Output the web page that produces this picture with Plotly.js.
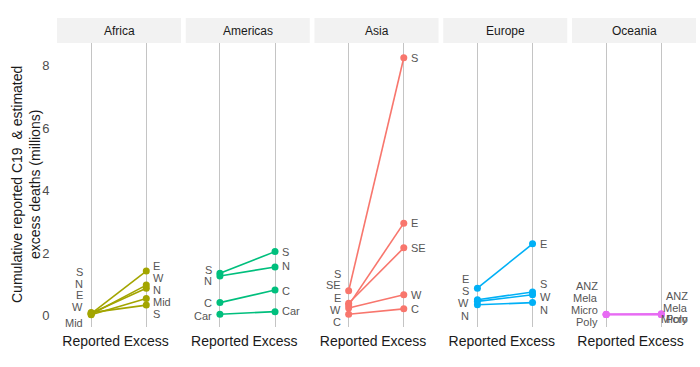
<!DOCTYPE html>
<html>
<head>
<meta charset="utf-8">
<script src="https://cdn.plot.ly/plotly-3.0.1.min.js"></script>
<style>html,body{margin:0;padding:0;background:#fff}#chart{width:700px;height:367px}</style>
</head>
<body>
<div id="chart"></div>
<script>
// ---- data (millions of deaths) ----
const regions = ["Africa", "Americas", "Asia", "Europe", "Oceania"];
const colors = ["#A3A500", "#00BF7D", "#F8766D", "#00B0F6", "#E76BF3"];
const measures = ["Reported", "Excess"];

const africaSubs = ["S", "N", "E", "W", "Mid"];
const africaReported = [0.10, 0.08, 0.07, 0.05, 0.03];
const africaExcess = [0.34, 0.88, 1.43, 0.98, 0.55];

const americasSubs = ["S", "N", "C", "Car"];
const americasReported = [1.36, 1.27, 0.42, 0.05];
const americasExcess = [2.05, 1.56, 0.82, 0.13];

const asiaSubs = ["S", "SE", "E", "W", "C"];
const asiaReported = [0.80, 0.40, 0.34, 0.25, 0.05];
const asiaExcess = [8.25, 2.17, 2.96, 0.67, 0.22];

const europeSubs = ["E", "S", "W", "N"];
const europeReported = [0.88, 0.51, 0.46, 0.35];
const europeExcess = [2.30, 0.76, 0.67, 0.42];

const oceaniaSubs = ["ANZ", "Mela", "Micro", "Poly"];
const oceaniaReported = [0.05, 0.04, 0.04, 0.04];
const oceaniaExcess = [0.06, 0.04, 0.04, 0.04];

// repelled label positions (y, in data units) for left and right label columns
const africaLeftLabelY = [1.40, 1.02, 0.67, 0.29, -0.22];
const africaRightLabelY = [0.06, 0.83, 1.59, 1.21, 0.45];
const americasLeftLabelY = [1.45, 1.12, 0.42, -0.02];
const americasRightLabelY = [2.05, 1.59, 0.80, 0.14];
const asiaLeftLabelY = [1.35, 0.98, 0.58, 0.18, -0.21];
const asiaRightLabelY = [8.25, 2.17, 2.96, 0.67, 0.22];
const europeLeftLabelY = [1.17, 0.80, 0.42, 0.00];
const europeRightLabelY = [2.30, 1.01, 0.61, 0.19];
const oceaniaLeftLabelY = [0.96, 0.58, 0.18, -0.21];
const oceaniaRightLabelY = [0.64, 0.26, -0.11, -0.11];

const panels = [
  {subs: africaSubs, rep: africaReported, exc: africaExcess, ly: africaLeftLabelY, ry: africaRightLabelY},
  {subs: americasSubs, rep: americasReported, exc: americasExcess, ly: americasLeftLabelY, ry: americasRightLabelY},
  {subs: asiaSubs, rep: asiaReported, exc: asiaExcess, ly: asiaLeftLabelY, ry: asiaRightLabelY},
  {subs: europeSubs, rep: europeReported, exc: europeExcess, ly: europeLeftLabelY, ry: europeRightLabelY},
  {subs: oceaniaSubs, rep: oceaniaReported, exc: oceaniaExcess, ly: oceaniaLeftLabelY, ry: oceaniaRightLabelY}
];

// ---- layout geometry ----
const L = 57, R = 4, T = 43, B = 40, W = 700, H = 367;
const plotW = W - L - R, plotH = H - T - B;
const panelW = 124, gapW = (plotW - 5 * panelW) / 4;

const traces = [];
const annotations = [];
const shapes = [];
const layout = {
  width: W, height: H,
  margin: {l: L, r: R, t: T, b: B, pad: 0},
  paper_bgcolor: "#fff", plot_bgcolor: "rgba(0,0,0,0)",
  showlegend: false,
  font: {family: "Liberation Sans, Arial, sans-serif", color: "#4D4D4D"},
  yaxis: {
    domain: [0, 1], anchor: "x", range: [-0.36, 8.72],
    tickvals: [0, 2, 4, 6, 8], ticktext: ["0", "2", "4", "6", "8"],
    showgrid: false, zeroline: false, showline: false,
    ticks: "outside", ticklen: 4, tickcolor: "rgba(0,0,0,0)",
    tickfont: {size: 13, color: "#4D4D4D"}
  }
};

panels.forEach((p, i) => {
  const ax = i === 0 ? "x" : "x" + (i + 1);
  const axKey = i === 0 ? "xaxis" : "xaxis" + (i + 1);
  const x0 = (i * (panelW + gapW)) / plotW;
  const x1 = (i * (panelW + gapW) + panelW) / plotW;
  layout[axKey] = {
    domain: [x0, x1], anchor: "y", type: "category",
    categoryorder: "array", categoryarray: measures,
    range: [-0.62, 1.63],
    showgrid: true, gridcolor: "#C4C4C4", gridwidth: 1,
    zeroline: false, showline: false,
    ticks: "outside", ticklen: 1, tickcolor: "rgba(0,0,0,0)",
    tickfont: {size: 14, color: "#1A1A1A"}
  };
  p.subs.forEach((s, j) => {
    traces.push({
      type: "scatter", mode: "lines+markers",
      x: measures, y: [p.rep[j], p.exc[j]],
      xaxis: ax, yaxis: "y",
      line: {color: colors[i], width: 1.6},
      marker: {color: colors[i], size: 7},
      hoverinfo: "skip"
    });
    annotations.push({
      xref: ax, yref: "y", x: measures[0], y: p.ly[j],
      text: s, showarrow: false, xanchor: "right", xshift: -6,
      font: {size: 11, color: "#555555"}
    });
    if (i === 4) {
      annotations.push({
        xref: ax + " domain", yref: "y", x: 0.955, y: p.ry[j],
        text: s, showarrow: false, xanchor: "right",
        font: {size: 11, color: "#555555"}
      });
    } else {
      annotations.push({
        xref: ax, yref: "y", x: measures[1], y: p.ry[j],
        text: s, showarrow: false, xanchor: "left", xshift: 5,
        font: {size: 11, color: "#555555"}
      });
    }
  });
  // strip
  shapes.push({
    type: "rect", xref: ax + " domain", yref: "paper",
    x0: 0, x1: 1, y0: 1, y1: 1 + 25 / plotH,
    fillcolor: "#F2F2F2", line: {width: 0}, layer: "below"
  });
  annotations.push({
    xref: ax + " domain", yref: "paper", x: 0.5, y: 1 + 12.5 / plotH,
    text: regions[i], showarrow: false, xanchor: "center", yanchor: "middle",
    font: {size: 12, color: "#1A1A1A"}
  });
});

// y-axis title
annotations.push({
  xref: "paper", yref: "paper", x: (26 - L) / plotW, y: 0.5,
  text: "Cumulative reported C19 \u00a0& estimated<br>excess deaths (millions)",
  showarrow: false, textangle: -90, xanchor: "center", yanchor: "middle",
  font: {size: 14, color: "#1A1A1A"}
});

layout.annotations = annotations;
layout.shapes = shapes;

Plotly.newPlot("chart", traces, layout, {displayModeBar: false, staticPlot: true});
</script>
</body>
</html>
